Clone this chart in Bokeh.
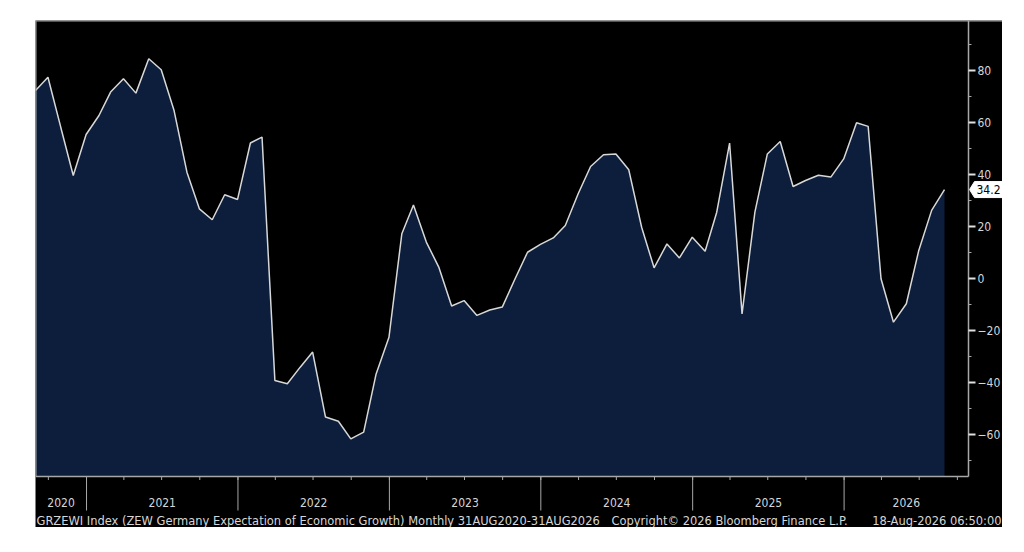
import pandas as pd
from bokeh.plotting import figure
from bokeh.models import FixedTicker, Span, Range1d, ColumnDataSource
from bokeh.embed import file_html
from bokeh.resources import INLINE
from bokeh.core.properties import value

# ---- data ----
start_date = "2020-08-31"
values = [72.3, 77.4, 58.1, 39.6, 55.4, 62.7, 71.7, 76.8, 71.3, 84.5, 80.3, 64.6,
          40.9, 26.8, 22.6, 32.2, 30.4, 52.1, 54.4, -39.2, -40.5, -34.1, -28.3, -53.3,
          -54.9, -61.7, -59.1, -36.7, -22.6, 17.2, 28.3, 14.0, 4.4, -10.6, -8.5, -14.2,
          -12.1, -11.0, -0.1, 10.1, 13.1, 15.6, 20.4, 32.6, 43.1, 47.6, 47.9, 41.8,
          19.7, 4.1, 13.3, 7.9, 15.9, 10.5, 25.5, 52.1, -13.6, 25.5, 47.9, 52.7,
          35.4, 37.7, 39.7, 39.0, 46.0, 59.9, 58.5, -0.1, -16.8, -9.7, 10.8, 26.2, 34.2]
year_labels = ["2020", "2021", "2022", "2023", "2024", "2025", "2026"]
y_major = [-60, -40, -20, 0, 20, 40, 60, 80]
y_minor = [-70, -50, -30, -10, 10, 30, 50, 70, 90]
footer_texts = ["GRZEWI Index (ZEW Germany Expectation of Economic Growth) Monthly 31AUG2020-31AUG2026",
                "Copyright\u00a9 2026 Bloomberg Finance L.P.",
                "18-Aug-2026 06:50:00"]

dates = pd.date_range(start_date, periods=len(values), freq=pd.offsets.MonthEnd())

# ---- layout / style ----
FONT = "'DejaVu Sans Condensed', 'DejaVu Sans', sans-serif"
NAVY = "#0c1e3b"
LINE = "#d8d8d8"
TXT = "#d6d6d6"
AX = "#a8a8a8"

FRAME_W, FRAME_H = 967, 507
ms_per_px = (dates[-1] - dates[0]) / 909.0      # 72 months over 909 px
x_start = dates[0]
x_end = x_start + ms_per_px * FRAME_W
x_axis = x_start + ms_per_px * 933               # position of the value axis
u_per_px = 1 / 2.6
y_top = 99.23
y_bot = y_top - FRAME_H * u_per_px
base = y_top - 456 * u_per_px


def xpx(px):
    return x_start + ms_per_px * px


p = figure(width=35 + FRAME_W, height=20 + FRAME_H, x_axis_type="datetime",
           x_axis_location=None, y_axis_location="right",
           x_range=Range1d(x_start, x_end), y_range=Range1d(y_bot, y_top),
           output_backend="svg", toolbar_location=None,
           min_border_left=35, min_border_top=20, min_border_right=0, min_border_bottom=0,
           background_fill_color="black", border_fill_color="white",
           outline_line_color=None)
p.grid.visible = False

# area + line
p.varea(x=dates, y1=base, y2=values, fill_color=NAVY)
p.line(x=dates, y=values, line_color=LINE, line_width=1.5)

# frame lines
p.segment(x0=[x_start], y0=[base], x1=[x_axis], y1=[base], line_color=AX, line_width=1.5)
p.add_layout(Span(location=y_top, dimension="width", line_color=AX, line_width=2))
p.segment(x0=[x_start], y0=[base], x1=[x_start], y1=[y_top], line_color=AX, line_width=2)

# time axis pieces: year separators, quarter ticks, year labels
years = list(range(2020, 2027))
jan1 = [pd.Timestamp(f"{y}-01-01") for y in years[1:]]
quarters = list(pd.date_range("2020-10-01", "2026-10-01", freq="QS"))
p.segment(x0=jan1, y0=[base] * len(jan1), x1=jan1, y1=[base - 34 * u_per_px] * len(jan1),
          line_color=AX, line_width=1)
p.segment(x0=quarters, y0=[base] * len(quarters), x1=quarters,
          y1=[base - 3.5 * u_per_px] * len(quarters), line_color=AX, line_width=1)
mids = []
for y in years:
    a = max(pd.Timestamp(f"{y}-01-01"), x_start)
    b = min(pd.Timestamp(f"{y + 1}-01-01"), x_axis)
    mids.append(a + (b - a) / 2)
ysrc = ColumnDataSource(dict(x=mids, y=[base - 26 * u_per_px] * len(mids), t=year_labels))
p.text(x="x", y="y", text="t", source=ysrc, text_color=TXT, text_font=value(FONT),
       text_font_size="12px", text_align="center", text_baseline="middle")

# footer
fy = base - 44 * u_per_px
fsrc = ColumnDataSource(dict(x=[xpx(1), xpx(576), xpx(966)], y=[fy] * 3, t=footer_texts,
                             a=["left", "left", "right"]))
p.text(x="x", y="y", text="t", text_align="a", source=fsrc, text_color=TXT,
       text_font=value(FONT), text_font_size="12.75px", text_baseline="middle")

# right value axis, drawn at a fixed location inside the black area
ax = p.yaxis[0]
ax.fixed_location = x_axis.value / 1e6
ax.ticker = FixedTicker(ticks=y_major, minor_ticks=y_minor)
ax.bounds = (base, y_top)
ax.axis_line_color = AX
ax.axis_line_width = 1.5
ax.major_tick_line_color = "#e0e0e0"
ax.major_tick_line_width = 2
ax.major_tick_out = 7
ax.major_tick_in = 0
ax.minor_tick_line_color = AX
ax.minor_tick_out = 3
ax.minor_tick_in = 0
ax.major_label_standoff = 2
ax.major_label_text_color = TXT
ax.major_label_text_font = FONT
ax.major_label_text_font_size = "12px"

# last value tag
last = values[-1]
h = 8 * u_per_px
tx = [xpx(934), xpx(939), xpx(967), xpx(967), xpx(939)]
ty = [last, last + h, last + h, last - h, last - h]
p.patch(x=tx, y=ty, fill_color="white", line_color="white")
p.text(x=[xpx(941)], y=[last], text=[f"{last:.1f}"], text_color="black",
       text_font=value(FONT), text_font_size="12px", text_align="left",
       text_baseline="middle")

open("out.html", "w").write(file_html(p, INLINE))
